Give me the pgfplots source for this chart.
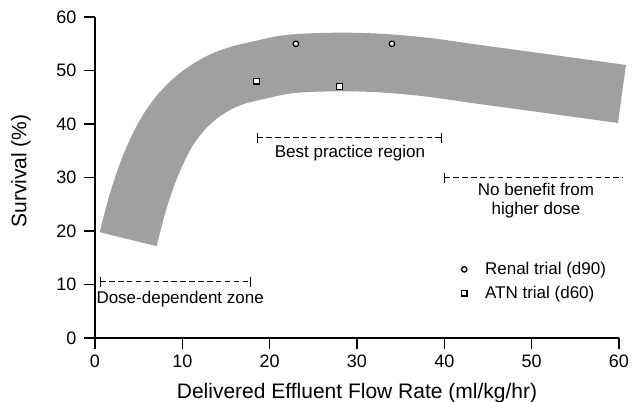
\documentclass[border=0pt]{standalone}
\usepackage{pgfplots}
\pgfplotsset{compat=1.18}
\usepackage{fontspec}
\setmainfont{Liberation Sans}
\definecolor{bandgray}{RGB}{160,160,160}

\begin{document}
\begin{tikzpicture}
\begin{axis}[
  scale only axis, width=524pt, height=321pt,
  xmin=0, xmax=60, ymin=0, ymax=60,
  axis x line*=bottom, axis y line*=left,
  axis line style={line width=1.4pt, -},
  xtick={0,10,...,60}, ytick={0,10,...,60},
  tick align=outside, major tick length=11pt,
  tick style={line width=1.4pt, black},
  tick label style={font=\fontsize{18}{20}\selectfont},
  y tick label style={xshift=-4pt},
  x tick label style={yshift=-2pt},
  /pgf/number format/assume math mode=true,
  xlabel={Delivered Effluent Flow Rate (ml/kg/hr)},
  ylabel={Survival (\%)},
  label style={font=\fontsize{21}{24}\selectfont},
  x label style={at={(axis description cs:0.5,0)}, yshift=-55pt, anchor=center},
  y label style={at={(axis description cs:-0.1412,0.52)}, anchor=center},
  clip=false,
  legend style={draw=none, fill=none, at={(axis cs:41.6,14.9)}, anchor=north west,
    font=\fontsize{17}{20}\selectfont, row sep=6pt, column sep=16pt},
  legend cell align=left,
]
% band drawn as a thick stroke along its centre line
\addplot[bandgray, line width=58.6pt, line cap=butt, smooth, tension=0.55, forget plot] coordinates {
(3.80,18.47) (4.80,24.77) (6.01,30.77) (7.23,35.44) (8.53,39.31) (10.11,42.65)
(11.97,45.44) (14.13,47.66) (16.28,49.08) (19.17,50.22) (21.87,51.12)
(24.77,51.48) (28.82,51.59) (32.99,51.36) (37.97,50.64) (43.63,49.35)
(51.64,47.57) (60.34,45.61)};

\addplot[only marks, mark=*, mark size=2.7pt,
  mark options={fill=white, draw=black, line width=1.3pt}] coordinates {(23,55) (34,55)};
\addlegendentry{Renal trial (d90)}
\addplot[only marks, mark=square*, mark size=2.8pt,
  mark options={fill=white, draw=black, line width=1.3pt}] coordinates {(18.5,48) (28,47)};
\addlegendentry{ATN trial (d60)}

% annotation brackets
\draw[line width=1.1pt, dash pattern=on 5.5pt off 3.4pt] (axis cs:0.6,10.5) -- (axis cs:17.8,10.5);
\draw[line width=1.2pt] (axis cs:0.6,10.5) ++(0,-5pt) -- ++(0,10pt);
\draw[line width=1.2pt] (axis cs:17.8,10.5) ++(0,-5pt) -- ++(0,10pt);
\node[anchor=west, inner sep=0pt, font=\fontsize{17}{20}\selectfont] at (axis cs:0.15,7.3) {Dose-dependent zone};

\draw[line width=1.1pt, dash pattern=on 5.5pt off 3.4pt] (axis cs:18.6,37.4) -- (axis cs:39.7,37.4);
\draw[line width=1.2pt] (axis cs:18.6,37.4) ++(0,-5pt) -- ++(0,10pt);
\draw[line width=1.2pt] (axis cs:39.7,37.4) ++(0,-5pt) -- ++(0,10pt);
\node[inner sep=0pt, font=\fontsize{17}{20}\selectfont] at (axis cs:29.2,34.6) {Best practice region};

\draw[line width=1.1pt, dash pattern=on 5.5pt off 3.4pt] (axis cs:40.0,30.0) -- (axis cs:60.5,30.0);
\draw[line width=1.2pt] (axis cs:40.0,30.0) ++(0,-5pt) -- ++(0,10pt);
\node[inner sep=0pt, align=center, font=\fontsize{17}{19.5}\selectfont] at (axis cs:50.5,25.7) {No benefit from\\higher dose};
\end{axis}
\pgfresetboundingbox
\path[use as bounding box] (current axis.south west) ++(-95pt,-64pt) rectangle ++(633pt,402pt);
\end{tikzpicture}
\end{document}
